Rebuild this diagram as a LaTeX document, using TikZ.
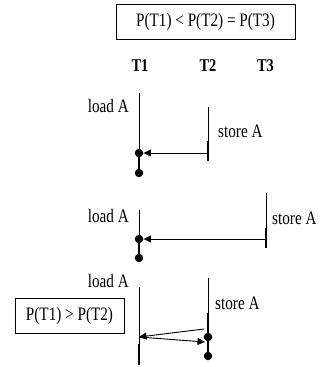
\documentclass[tikz,border=0pt]{standalone}
\usepackage{fontspec}
\setmainfont{Liberation Serif}[FakeStretch=0.8]
\usetikzlibrary{arrows.meta}
\begin{document}
\begin{tikzpicture}[x=1pt,y=-1pt,
  thinl/.style={line width=1pt},
  thickl/.style={line width=2.8pt},
  dotc/.style={circle,fill=black,inner sep=0pt,minimum size=8.5pt},
  lbl/.style={font=\fontsize{19}{22}\selectfont,inner sep=0pt},
  hdr/.style={font=\fontsize{18}{20}\selectfont\bfseries,inner sep=0pt,anchor=base},
  msg/.style={line width=0.9pt,-{Triangle[length=7.5pt,width=7pt]}},
  boxn/.style={draw,line width=0.9pt,inner sep=0pt,font=\fontsize{19}{22}\selectfont}]
\useasboundingbox (0,0) rectangle (320,367);
% boxes
\node[boxn,minimum width=179pt,minimum height=35pt] (top) at (205.5,21.5) {P(T1) < P(T2) = P(T3)};
\node[boxn,minimum width=109pt,minimum height=35pt] (gt) at (69.5,315.5) {P(T1) > P(T2)};
% headers
\node[hdr] (h1) at (140,71) {T1};
\node[hdr] (h2) at (208,71) {T2};
\node[hdr] (h3) at (265.5,71) {T3};
% section 1
\coordinate (a1t) at (139,93);
\node[dotc] (a1d) at (139,153) {};
\node[dotc] (a1e) at (139,173) {};
\draw[thinl] (a1t) -- (a1d.center);
\draw[thickl] (a1d.center) -- (a1e.center);
\node[lbl,anchor=base east] (a1l) at (129,112) {load A};
\coordinate (b1t) at (208,107);
\coordinate (b1m) at (208,141);
\coordinate (b1b) at (208,161);
\coordinate (b1s) at (208,153);
\draw[thinl] (b1t) -- (b1m);
\draw[thickl] (b1m) -- (b1b);
\node[lbl,anchor=base west] (b1l) at (218,137.5) {store A};
\draw[msg] (b1s) -- (a1d);
% section 2
\coordinate (a2t) at (139,210);
\node[dotc] (a2d) at (139,239) {};
\node[dotc] (a2e) at (139,258) {};
\draw[thinl] (a2t) -- (a2d.center);
\draw[thickl] (a2d.center) -- (a2e.center);
\node[lbl,anchor=base east] (a2l) at (129,222) {load A};
\coordinate (c2t) at (266,193);
\coordinate (c2m) at (266,228);
\coordinate (c2b) at (266,248);
\coordinate (c2s) at (266,239);
\draw[thinl] (c2t) -- (c2m);
\draw[thickl] (c2m) -- (c2b);
\node[lbl,anchor=base west] (c2l) at (272,224) {store A};
\draw[msg] (c2s) -- (a2d);
% section 3
\coordinate (a3t) at (139,287);
\coordinate (a3m) at (139,344);
\coordinate (a3b) at (139,365);
\coordinate (a3s) at (139,337);
\draw[thinl] (a3t) -- (a3m);
\draw[thickl] (a3m) -- (a3b);
\node[lbl,anchor=base east] (a3l) at (129,287) {load A};
\coordinate (b3t) at (208,278);
\coordinate (b3m) at (208,313);
\node[dotc] (b3d) at (208,337) {};
\node[dotc] (b3e) at (208,356) {};
\draw[thinl] (b3t) -- (b3m);
\draw[thickl] (b3m) -- (b3d.center) -- (b3e.center);
\node[lbl,anchor=base west] (b3l) at (215,309.5) {store A};
\coordinate (b3s) at (204,329);
\coordinate (b3r) at (205,342);
\draw[msg] (b3s) -- (a3s);
\draw[msg] (a3s) -- (b3r);
\end{tikzpicture}
\end{document}
